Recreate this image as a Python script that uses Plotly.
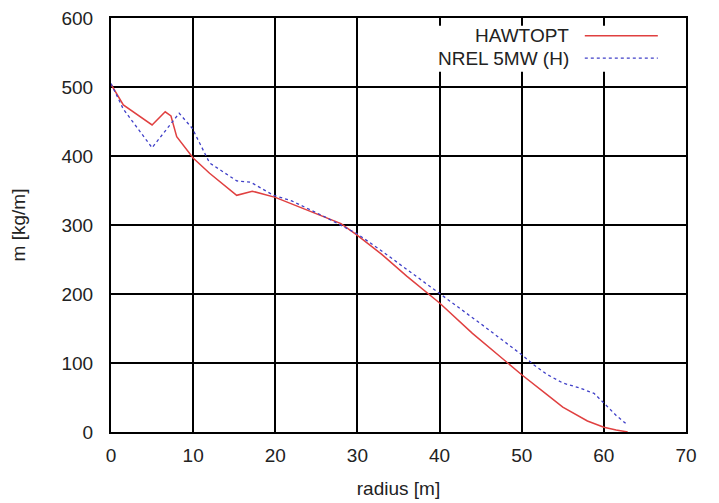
import plotly.graph_objects as go

# HAWTOPT (red solid)
haw_r = [0, 1.5, 5, 6.6, 7.3, 8, 10, 12, 15.3, 17.2, 20, 23, 26, 28, 30, 33, 36, 40, 44, 48.3, 50, 53, 55, 58, 60, 61.5, 62.9]
haw_m = [504, 474, 445, 464, 458, 428, 397, 375, 343, 349, 340, 326, 312, 302, 285, 257, 226, 187, 143, 100, 83, 55, 36, 16, 7, 3, 0]

# NREL 5MW (H) (blue dotted)
nrel_r = [0, 1.5, 5, 8.3, 9.9, 12, 15.3, 17, 19.8, 22, 26, 30, 33, 36, 40, 45, 50, 51.5, 53, 55, 57, 58.8, 60, 61.5, 62.9]
nrel_m = [505, 468, 412, 462, 440, 390, 364, 362, 343, 335, 312, 287, 262, 236, 201, 157, 112, 97, 84, 71, 64, 56, 42, 24, 10]

x_ticks = [0, 10, 20, 30, 40, 50, 60, 70]
y_ticks = [0, 100, 200, 300, 400, 500, 600]

RED = "#e04040"
BLUE = "#4040c8"

fig = go.Figure()
fig.add_trace(go.Scatter(x=haw_r, y=haw_m, mode="lines", name="HAWTOPT",
                         line=dict(color=RED, width=1.5)))
fig.add_trace(go.Scatter(x=nrel_r, y=nrel_m, mode="lines", name="NREL 5MW (H)",
                         line=dict(color=BLUE, width=1.3, dash="dot")))

font = dict(family="Liberation Sans, Arial, sans-serif", size=19, color="#222")

fig.update_layout(
    width=719, height=503,
    margin=dict(l=103, r=41, t=10, b=79, autoexpand=False),
    paper_bgcolor="white", plot_bgcolor="white",
    showlegend=False,
    font=font,
    xaxis=dict(range=[0, 70], tickvals=x_ticks, showgrid=True, gridcolor="black", gridwidth=2,
               zeroline=False, showline=True, linecolor="black", linewidth=2, mirror=True,
               ticks="", ticklabelstandoff=5, tickfont=font, automargin=False,
               ticklabeloverflow="allow",
               title=dict(text="radius [m]", font=font, standoff=17)),
    yaxis=dict(range=[0, 600], tickvals=y_ticks, showgrid=True, gridcolor="black", gridwidth=2,
               zeroline=False, showline=True, linecolor="black", linewidth=2, mirror=True,
               ticks="", ticklabelstandoff=12, tickfont=font, automargin=False,
               ticklabeloverflow="allow",
               title=dict(text="m [kg/m]", font=font, standoff=32)),
)

# legend (gnuplot style: text left, sample right)
fig.add_shape(type="rect", xref="paper", yref="paper", x0=0.52, x1=0.995, y0=0.87, y1=0.981,
              fillcolor="white", line=dict(width=0), layer="above")
fig.add_shape(type="line", xref="paper", yref="paper", x0=0.824, x1=0.951, y0=0.957, y1=0.957,
              line=dict(color=RED, width=1.5), layer="above")
fig.add_shape(type="line", xref="paper", yref="paper", x0=0.824, x1=0.951, y0=0.903, y1=0.903,
              line=dict(color=BLUE, width=1.3, dash="dot"), layer="above")
fig.add_annotation(xref="paper", yref="paper", x=0.80, y=0.957, text="HAWTOPT", showarrow=False,
                   xanchor="right", yanchor="middle", font=font)
fig.add_annotation(xref="paper", yref="paper", x=0.80, y=0.903, text="NREL 5MW (H)", showarrow=False,
                   xanchor="right", yanchor="middle", font=font)

fig.write_html("out.html")
